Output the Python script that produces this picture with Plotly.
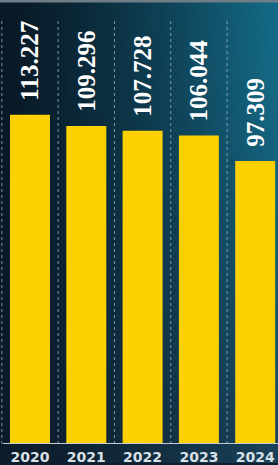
import zlib, struct, base64
import plotly.graph_objects as go

years = ["2020", "2021", "2022", "2023", "2024"]
values = [113.227, 109.296, 107.728, 106.044, 97.309]
value_labels = ["113.227", "109.296", "107.728", "106.044", "97.309"]

W, H = 278, 465
PLOT_H = 446


def make_png(w, h, fn):
    raw = bytearray()
    for j in range(h):
        raw.append(0)
        for i in range(w):
            r, g, b = fn(i / (w - 1), j / (h - 1))
            raw += bytes((int(r), int(g), int(b)))
    def chunk(t, d):
        c = struct.pack(">I", len(d)) + t + d
        return c + struct.pack(">I", zlib.crc32(t + d) & 0xffffffff)
    data = b"\x89PNG\r\n\x1a\n" + chunk(b"IHDR", struct.pack(">IIBBBBB", w, h, 8, 2, 0, 0, 0))
    data += chunk(b"IDAT", zlib.compress(bytes(raw), 9)) + chunk(b"IEND", b"")
    return "data:image/png;base64," + base64.b64encode(data).decode()


def mix(a, b, t):
    return tuple(a[k] + (b[k] - a[k]) * t for k in range(3))


TL = (9, 25, 38)
TR = (20, 108, 136)
BL = (13, 28, 43)
BR = (26, 66, 90)


def bg(u, v):
    tu = u ** 1.3
    top = mix(TL, TR, tu)
    bot = mix(BL, BR, tu)
    return mix(top, bot, v ** 1.5)


bg_src = make_png(70, 117, bg)

idx = list(range(len(years)))

fig = go.Figure()
fig.add_bar(x=idx, y=values, width=0.71, marker=dict(color="#FDD000", line=dict(width=0)),
            hoverinfo="skip")

for i, v, t in zip(idx, values, value_labels):
    fig.add_annotation(x=i, y=v, text=t, textangle=-90, showarrow=False,
                       yanchor="bottom", xanchor="center", yshift=12,
                       font=dict(family="Liberation Serif", size=25, color="white", weight="bold"))

shapes = []
for i in idx:
    shapes.append(dict(type="line", xref="x", yref="y", x0=i - 0.5, x1=i - 0.5, y0=0, y1=146,
                       line=dict(color="rgba(165,180,195,0.75)", width=1, dash="3px,3px"), layer="below"))
shapes.append(dict(type="line", xref="x", yref="y", x0=-0.48, x1=4.6, y0=0, y1=0,
                   line=dict(color="#c3ccd3", width=2), layer="above"))
shapes.append(dict(type="rect", xref="paper", yref="paper", x0=0, x1=1, y0=1 - 2.5 / PLOT_H, y1=1,
                   fillcolor="#6f7d87", line=dict(width=0), layer="above"))

x0 = -30 / 56.3
fig.update_layout(
    width=W, height=H,
    margin=dict(l=0, r=0, t=0, b=H - PLOT_H, pad=0),
    paper_bgcolor="#0c1f2e", plot_bgcolor="rgba(0,0,0,0)",
    showlegend=False,
    shapes=shapes,
    images=[dict(source=bg_src, xref="paper", yref="paper", x=0, y=1, sizex=1, sizey=H / PLOT_H,
                 xanchor="left", yanchor="top", sizing="stretch", layer="below")],
    xaxis=dict(range=[x0, x0 + W / 56.3], tickvals=idx, ticktext=years, showgrid=False,
               zeroline=False, showline=False, ticks="", ticklabelstandoff=3,
               tickfont=dict(family="DejaVu Sans", size=14, color="#d9e0e6", weight="bold")),
    yaxis=dict(range=[0, PLOT_H / 2.922], visible=False, showgrid=False, zeroline=False),
)

fig.write_html("out.html", config={"displayModeBar": False},
               post_script="document.body.style.margin='0';document.body.style.overflow='hidden';")
